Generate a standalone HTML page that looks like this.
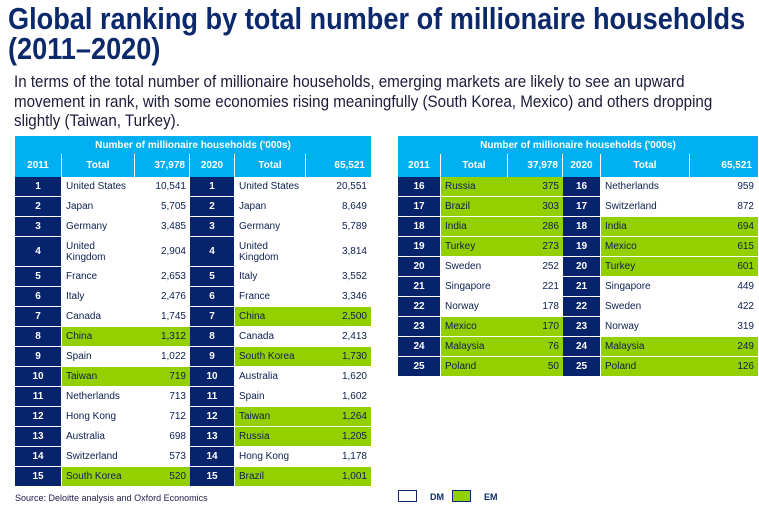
<!DOCTYPE html>
<html><head><meta charset="utf-8">
<style>
body{margin:0;width:759px;height:510px;background:#fff;font-family:"Liberation Sans",sans-serif;position:relative;overflow:hidden}
#title{position:absolute;left:8px;top:4px;font-family:"Liberation Sans Narrow","Liberation Sans",sans-serif;font-weight:bold;font-size:31px;line-height:30px;color:#0c2a6b;white-space:nowrap;transform-origin:0 0}
#sub{position:absolute;left:14px;top:72px;font-family:"Liberation Sans Narrow","Liberation Sans",sans-serif;font-size:17px;line-height:19.5px;color:#1b1b3a;white-space:nowrap;transform-origin:0 0}
.c{position:absolute;box-sizing:border-box;font-size:10px;color:#0c1f4f;display:flex;align-items:center;line-height:11px}
.rk{background:#06236b;color:#fff;font-weight:bold;justify-content:center;border-right:1px solid #fff;border-bottom:1px solid #fff}
.hd{background:#00b0f0;color:#fff;font-weight:bold;justify-content:center;border-right:1px solid #fff}
.nm{padding-left:4px;border-bottom:1px solid #fff}
.vl{justify-content:flex-end;padding-right:4px;border-bottom:1px solid #fff}
.em{background:#92d000}
#src{position:absolute;left:15px;top:493px;font-size:9px;color:#1b1b4a}
.lg{position:absolute;top:490px;width:19px;height:12px;box-sizing:border-box;border:1px solid #0c2a6b}
.lt{position:absolute;top:492px;font-size:9px;font-weight:bold;color:#0c2a6b}
</style></head><body>
<div id="title">Global ranking by total number of millionaire households<br>(2011–2020)</div>
<div id="sub">In terms of the total number of millionaire households, emerging markets are likely to see an upward<br>movement in rank, with some economies rising meaningfully (South Korea, Mexico) and others dropping<br>slightly (Taiwan, Turkey).</div>
<div id="tables"></div>
<div id="src">Source: Deloitte analysis and Oxford Economics</div>
<div class="lg" style="left:398px"></div>
<div class="lt" style="left:430px">DM</div>
<div class="lg" style="left:452px;background:#92d000"></div>
<div class="lt" style="left:484px">EM</div>
<script>
const countries2011=["United States","Japan","Germany","United<br>Kingdom","France","Italy","Canada","China","Spain","Taiwan","Netherlands","Hong Kong","Australia","Switzerland","South Korea","Russia","Brazil","India","Turkey","Sweden","Singapore","Norway","Mexico","Malaysia","Poland"];
const values2011=["10,541","5,705","3,485","2,904","2,653","2,476","1,745","1,312","1,022","719","713","712","698","573","520","375","303","286","273","252","221","178","170","76","50"];
const em2011=[0,0,0,0,0,0,0,1,0,1,0,0,0,0,1,1,1,1,1,0,0,0,1,1,1];
const countries2020=["United States","Japan","Germany","United<br>Kingdom","Italy","France","China","Canada","South Korea","Australia","Spain","Taiwan","Russia","Hong Kong","Brazil","Netherlands","Switzerland","India","Mexico","Turkey","Singapore","Sweden","Norway","Malaysia","Poland"];
const values2020=["20,551","8,649","5,789","3,814","3,552","3,346","2,500","2,413","1,730","1,620","1,602","1,264","1,205","1,178","1,001","959","872","694","615","601","449","422","319","249","126"];
const em2020=[0,0,0,0,0,0,1,0,1,0,0,1,1,0,1,0,0,1,1,1,0,0,0,1,1];
const totals=["37,978","65,521"];
const root=document.getElementById('tables');
function cell(cls,x,y,w,h,html,name){const d=document.createElement('div');d.className='c '+cls;
d.style.left=x+'px';d.style.top=y+'px';d.style.width=w+'px';d.style.height=h+'px';d.innerHTML=html;


root.appendChild(d);}
function table(cols,start,tag){
 const x0=cols[0],x1=cols[6];
 cell('hd',x0,136,x1-x0,18,"Number of millionaire households ('000s)",tag+'-title');
 root.lastChild.style.borderRight='none';
 const hdr=["2011","Total",totals[0],"2020","Total",totals[1]];
 hdr.forEach((t,i)=>cell('hd',cols[i],154,cols[i+1]-cols[i],23,t,tag+'-header-'+i));
 root.lastChild.style.borderRight='none';
 root.children[root.children.length-4].style.justifyContent='flex-end';root.children[root.children.length-4].style.paddingRight='4px';
 root.lastChild.style.justifyContent='flex-end';root.lastChild.style.paddingRight='6px';
 let y=177;
 for(let i=start;i<start+(start==0?15:10);i++){
  const h=(i==3)?30:20;
  const e1=em2011[i]?' em':'',e2=em2020[i]?' em':'';
  cell('rk',cols[0],y,cols[1]-cols[0],h,i+1,tag+'-rank2011-'+(i+1));
  cell('nm'+e1,cols[1],y,cols[2]-cols[1],h,countries2011[i],tag+'-country2011-'+(i+1));
  cell('vl'+e1,cols[2],y,cols[3]-cols[2],h,values2011[i],tag+'-value2011-'+(i+1));
  cell('rk',cols[3],y,cols[4]-cols[3],h,i+1,tag+'-rank2020-'+(i+1));
  cell('nm'+e2,cols[4],y,cols[5]-cols[4],h,countries2020[i],tag+'-country2020-'+(i+1));
  cell('vl'+e2,cols[5],y,cols[6]-cols[5],h,values2020[i],tag+'-value2020-'+(i+1));
  y+=h;
 }
}
table([15,62,135,190,235,306,371],0,'left-table');
table([398,441,508,563,601,690,758],15,'right-table');
function fit(id,w){const e=document.getElementById(id);const s=w/e.scrollWidth;e.style.transform='scaleX('+s+')';}
fit('title',737);fit('sub',698);
</script>
</body></html>
